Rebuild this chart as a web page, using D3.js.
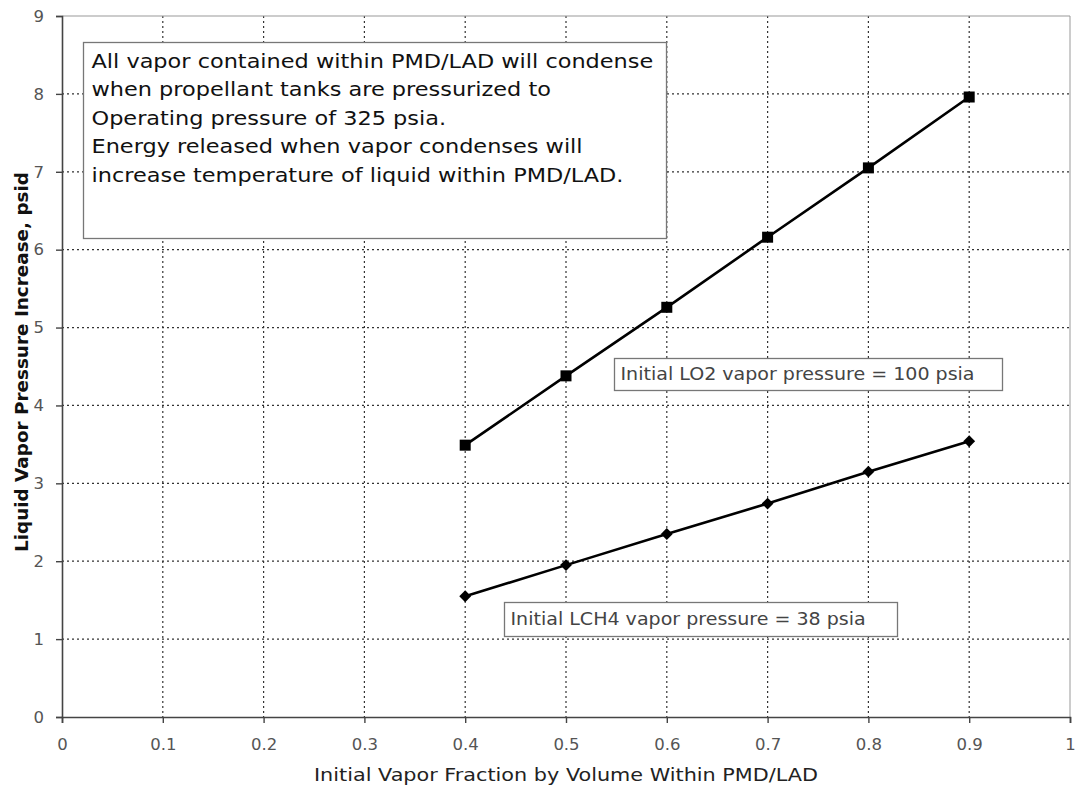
<!DOCTYPE html>
<html><head><meta charset="utf-8">
<script src="https://cdn.jsdelivr.net/npm/d3@7"></script>
<style>body{margin:0;background:#fff;} svg{display:block;}</style>
</head><body>
<script>
const xValues = [0.4, 0.5, 0.6, 0.7, 0.8, 0.9];
const lo2Values = [3.49, 4.38, 5.26, 6.16, 7.05, 7.96];
const lch4Values = [1.55, 1.95, 2.35, 2.74, 3.15, 3.54];
const xTicks = [0, 0.1, 0.2, 0.3, 0.4, 0.5, 0.6, 0.7, 0.8, 0.9, 1];
const yTicks = [0, 1, 2, 3, 4, 5, 6, 7, 8, 9];
const noteLines = [
  "All vapor contained within PMD/LAD will condense",
  "when propellant tanks are pressurized to",
  "Operating pressure of 325 psia.",
  "Energy released when vapor condenses will",
  "increase temperature of liquid within PMD/LAD."
];
const lo2Label = "Initial LO2 vapor pressure = 100 psia";
const lch4Label = "Initial LCH4 vapor pressure = 38 psia";
const xTitle = "Initial Vapor Fraction by Volume Within PMD/LAD";
const yTitle = "Liquid Vapor Pressure Increase, psid";

const W = 1075, H = 787;
const L = 62, R = 1070, T = 16, B = 717;
const font = "DejaVu Sans, Verdana, sans-serif";
const SX = 1.12; // horizontal stretch of the reference text
const svg = d3.select("body").append("svg").attr("width", W).attr("height", H);
const x = d3.scaleLinear().domain([0, 1]).range([L, R]);
const y = d3.scaleLinear().domain([0, 9]).range([B, T]);

function stretch(sel, f) {
  sel.each(function () {
    const w = this.getComputedTextLength();
    d3.select(this).attr("textLength", w * f).attr("lengthAdjust", "spacingAndGlyphs");
  });
}

// grid
const g = svg.append("g");
g.selectAll("line.vg").data(xTicks.slice(1, -1)).join("line")
  .attr("x1", d => x(d)).attr("x2", d => x(d)).attr("y1", T).attr("y2", B)
  .attr("stroke", "#333").attr("stroke-width", 1.2).attr("stroke-dasharray", "2,3");
g.selectAll("line.hg").data(yTicks.slice(1, -1)).join("line")
  .attr("y1", d => y(d)).attr("y2", d => y(d)).attr("x1", L).attr("x2", R)
  .attr("stroke", "#333").attr("stroke-width", 1.2).attr("stroke-dasharray", "2,3");
svg.append("line").attr("x1", L).attr("x2", R).attr("y1", T).attr("y2", T).attr("stroke", "#999").attr("stroke-width", 1);
svg.append("line").attr("x1", R).attr("x2", R).attr("y1", T).attr("y2", B).attr("stroke", "#999").attr("stroke-width", 1);

// axes
const xAxis = svg.append("g").attr("transform", `translate(0,${B})`)
  .call(d3.axisBottom(x).tickValues(xTicks).tickFormat(d => d3.format("")(d)).tickSize(6));
xAxis.selectAll(".tick text").attr("dy", null).attr("y", 33);
const yAxis = svg.append("g").attr("transform", `translate(${L},0)`)
  .call(d3.axisLeft(y).tickValues(yTicks).tickSize(6).tickPadding(12));
[xAxis, yAxis].forEach(a => {
  a.select(".domain").attr("stroke", "#444").attr("stroke-width", 1.6);
  a.selectAll(".tick line").attr("stroke", "#444").attr("stroke-width", 1.4);
  a.selectAll("text").attr("font-family", font).attr("font-size", 16.5).attr("fill", "#555");
});

// note box
svg.append("rect").attr("x", 83.5).attr("y", 42.5).attr("width", 583).attr("height", 196)
  .attr("fill", "#fff").attr("stroke", "#777").attr("stroke-width", 1.3);
svg.append("g").selectAll("text").data(noteLines).join("text")
  .attr("x", 91.5).attr("y", (d, i) => 68 + i * 28.4)
  .attr("font-family", font).attr("font-size", 20).attr("fill", "#111")
  .text(d => d).call(stretch, SX);

// lines
const line = d3.line().x(d => x(d[0])).y(d => y(d[1]));
const lo2 = xValues.map((v, i) => [v, lo2Values[i]]);
const lch4 = xValues.map((v, i) => [v, lch4Values[i]]);
svg.append("path").datum(lo2).attr("d", line).attr("fill", "none").attr("stroke", "#000").attr("stroke-width", 2.6);
svg.append("path").datum(lch4).attr("d", line).attr("fill", "none").attr("stroke", "#000").attr("stroke-width", 2.6);
svg.selectAll("rect.sq").data(lo2).join("rect")
  .attr("x", d => x(d[0]) - 5.5).attr("y", d => y(d[1]) - 5.5).attr("width", 11).attr("height", 11).attr("fill", "#000");
svg.selectAll("path.dm").data(lch4).join("path")
  .attr("d", d3.symbol().type(d3.symbolSquare).size(70))
  .attr("transform", d => `translate(${x(d[0])},${y(d[1])}) rotate(45)`)
  .attr("fill", "#000");

// labels
function labelBox(x0, y0, w, h, base, txt) {
  svg.append("rect").attr("x", x0 + 0.5).attr("y", y0 + 0.5).attr("width", w).attr("height", h)
    .attr("fill", "#fff").attr("stroke", "#777").attr("stroke-width", 1.3);
  svg.append("text").attr("x", x0 + 6.5).attr("y", base)
    .attr("font-family", font).attr("font-size", 17).attr("fill", "#444").text(txt).call(stretch, SX);
}
labelBox(614, 358, 388, 32, 380, lo2Label);
labelBox(504, 602, 393, 34, 625, lch4Label);

// titles
svg.append("text").attr("x", (L + R) / 2).attr("y", 781).attr("text-anchor", "middle")
  .attr("font-family", font).attr("font-size", 18).attr("fill", "#222").text(xTitle)
  .attr("textLength", 504).attr("lengthAdjust", "spacingAndGlyphs");
svg.append("text").attr("transform", `translate(28,362) rotate(-90)`).attr("text-anchor", "middle")
  .attr("font-family", font).attr("font-size", 18).attr("font-weight", "bold").attr("fill", "#111").text(yTitle)
  .attr("textLength", 380).attr("lengthAdjust", "spacingAndGlyphs");
</script>
</body></html>
